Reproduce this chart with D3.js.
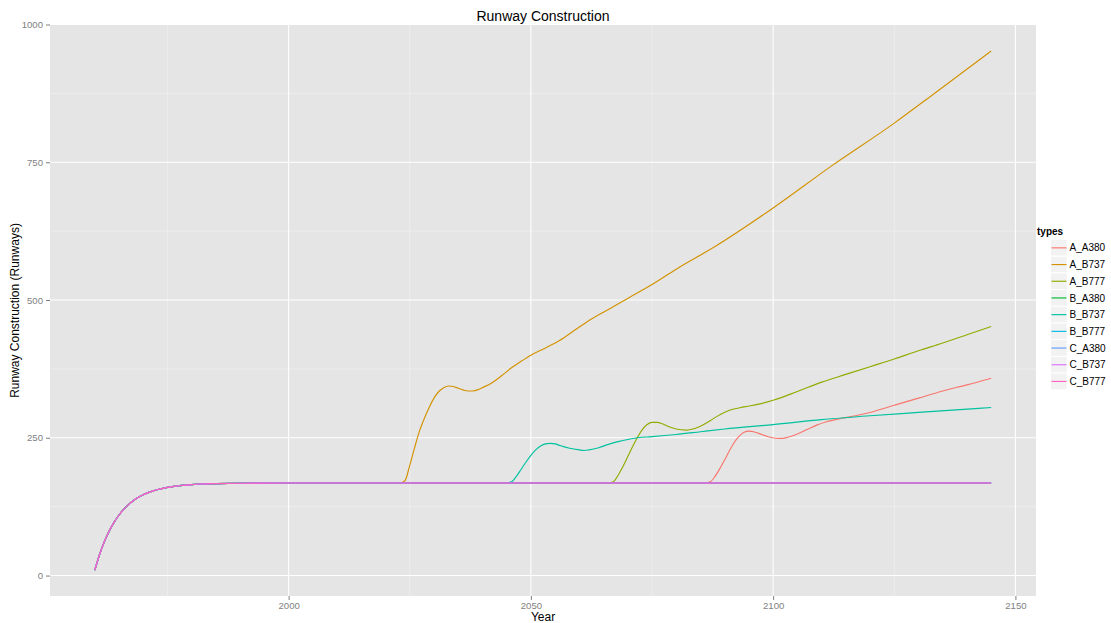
<!DOCTYPE html>
<html>
<head>
<meta charset="utf-8">
<script src="https://cdnjs.cloudflare.com/ajax/libs/d3/7.8.5/d3.min.js"></script>
<style>
  html, body { margin: 0; padding: 0; background: #fff; }
  svg { display: block; font-family: "Liberation Sans", Arial, Helvetica, sans-serif; }
</style>
</head>
<body>
<svg id="chart" width="1111" height="623"></svg>
<script>
// ---------------- DATA ----------------
const chartTitle = "Runway Construction";
const xTitle = "Year";
const yTitle = "Runway Construction (Runways)";
const legendTitle = "types";

const seriesNames = ["A_A380","A_B737","A_B777","B_A380","B_B737","B_B777","C_A380","C_B737","C_B777"];
const seriesColors = ["#F8766D","#D39200","#93AA00","#00BA38","#00C19F","#00B9E3","#619CFF","#DB72FB","#FF61C3"];

const xTicks = [2000, 2050, 2100, 2150];
const xMinorTicks = [1975, 2025, 2075, 2125];
const yTicks = [0, 250, 500, 750, 1000];
const yMinorTicks = [125, 375, 625, 875];

// shared ramp-up and plateau (year, runways)
const baseYears  = [1960, 1961, 1962, 1963, 1964, 1965, 1966, 1967, 1968, 1969, 1970, 1971, 1972, 1973, 1974, 1975, 1976, 1977, 1978, 1980, 1982, 1985, 1990, 2000, 2145];
const baseValues = [10, 38.6, 62.1, 81.3, 97.0, 109.9, 120.4, 129.1, 136.1, 141.9, 146.6, 150.5, 153.6, 156.2, 158.3, 160.1, 161.5, 162.6, 163.6, 165.1, 166.1, 166.9, 167.6, 168, 168];

// departures from the plateau
const A_A380_years  = [2086, 2087, 2088, 2089, 2090, 2091, 2092, 2093, 2094, 2095, 2096, 2097, 2099, 2101, 2102, 2103, 2105, 2107, 2109, 2111, 2114, 2117, 2120, 2125, 2130, 2135, 2140, 2145];
const A_A380_values = [168, 170, 180, 194, 210, 227, 242, 253, 260, 262, 261, 258, 252, 249, 249, 251, 257, 265, 273, 279, 285, 290, 296, 309, 322, 335, 346, 358];

const A_B737_years  = [2023, 2024, 2025, 2026, 2027, 2028, 2029, 2030, 2031, 2032, 2033, 2034, 2035, 2036, 2037, 2038, 2039, 2040, 2042, 2044, 2046, 2048, 2050, 2053, 2056, 2059, 2062, 2066, 2070, 2075, 2080, 2088, 2100, 2112, 2125, 2133, 2145];
const A_B737_values = [168, 172, 200, 232, 262, 285, 305, 322, 334, 341, 344, 343, 340, 337, 335, 335, 337, 341, 350, 363, 377, 389, 400, 413, 427, 445, 463, 483, 503, 528, 556, 597, 667, 743, 821, 873, 952];

const A_B777_years  = [2066, 2067, 2068, 2069, 2070, 2071, 2072, 2073, 2074, 2075, 2076, 2077, 2078, 2080, 2082, 2083, 2085, 2087, 2089, 2091, 2094, 2097, 2100, 2105, 2110, 2115, 2120, 2125, 2130, 2135, 2140, 2145];
const A_B777_values = [168, 170, 182, 198, 216, 234, 251, 265, 274, 278, 278, 276, 272, 266, 264, 265, 271, 281, 292, 300, 306, 311, 318, 334, 351, 365, 379, 393, 408, 422, 437, 452];

const B_B737_years  = [2045, 2046, 2047, 2048, 2049, 2050, 2051, 2052, 2053, 2054, 2055, 2056, 2058, 2060, 2061, 2062, 2064, 2066, 2068, 2070, 2072, 2075, 2080, 2085, 2090, 2100, 2110, 2120, 2130, 2145];
const B_B737_values = [168, 170, 180, 193, 206, 218, 228, 235, 239, 240, 239, 236, 231, 228, 227, 228, 232, 238, 243, 247, 250, 252, 256, 261, 266, 274, 283, 290, 296, 305];

const departures = {
  A_A380: [A_A380_years, A_A380_values],
  A_B737: [A_B737_years, A_B737_values],
  A_B777: [A_B777_years, A_B777_values],
  B_B737: [B_B737_years, B_B737_values]
};

// ---------------- BUILD SERIES ----------------
const baseData = baseYears.map((y, i) => ({x: y, y: baseValues[i]}));
const series = seriesNames.map((name, i) => {
  let pts;
  if (departures[name]) {
    const [ys, vs] = departures[name];
    const start = ys[0];
    pts = baseData.filter(d => d.x < start).concat(ys.map((y, j) => ({x: y, y: vs[j]})));
  } else {
    pts = baseData.slice();
  }
  return {name, color: seriesColors[i], pts};
});

// ---------------- LAYOUT ----------------
const svg = d3.select("#chart");
const W = 1111, H = 623;
const panel = {left: 50, top: 25, right: 1036, bottom: 596};

const allX = series.flatMap(s => s.pts.map(d => d.x));
const allY = series.flatMap(s => s.pts.map(d => d.y));
const xMin = d3.min(allX), xMax = d3.max(allX);
const yMin = d3.min(allY), yMax = d3.max(allY);
const xPad = (xMax - xMin) * 0.05, yPad = (yMax - yMin) * 0.05;

const x = d3.scaleLinear().domain([xMin - xPad, xMax + xPad]).range([panel.left, panel.right]);
const y = d3.scaleLinear().domain([yMin - yPad, yMax + yPad]).range([panel.bottom, panel.top]);

// panel background
svg.append("rect")
  .attr("x", panel.left).attr("y", panel.top)
  .attr("width", panel.right - panel.left).attr("height", panel.bottom - panel.top)
  .attr("fill", "#E5E5E5");

const grid = svg.append("g");
// minor grid
grid.selectAll(".vminor").data(xMinorTicks).enter().append("line")
  .attr("x1", d => x(d)).attr("x2", d => x(d))
  .attr("y1", panel.top).attr("y2", panel.bottom)
  .attr("stroke", "#F2F2F2").attr("stroke-width", 0.6);
grid.selectAll(".hminor").data(yMinorTicks).enter().append("line")
  .attr("y1", d => y(d)).attr("y2", d => y(d))
  .attr("x1", panel.left).attr("x2", panel.right)
  .attr("stroke", "#F2F2F2").attr("stroke-width", 0.6);
// major grid
grid.selectAll(".vmajor").data(xTicks).enter().append("line")
  .attr("x1", d => x(d)).attr("x2", d => x(d))
  .attr("y1", panel.top).attr("y2", panel.bottom)
  .attr("stroke", "#FFFFFF").attr("stroke-width", 1.1);
grid.selectAll(".hmajor").data(yTicks).enter().append("line")
  .attr("y1", d => y(d)).attr("y2", d => y(d))
  .attr("x1", panel.left).attr("x2", panel.right)
  .attr("stroke", "#FFFFFF").attr("stroke-width", 1.1);

// lines
const line = d3.line().x(d => x(d.x)).y(d => y(d.y)).curve(d3.curveMonotoneX);
const clip = svg.append("clipPath").attr("id", "clip").append("rect")
  .attr("x", panel.left).attr("y", panel.top)
  .attr("width", panel.right - panel.left).attr("height", panel.bottom - panel.top);
svg.append("g").attr("clip-path", "url(#clip)")
  .selectAll("path").data(series).enter().append("path")
  .attr("d", d => line(d.pts))
  .attr("fill", "none")
  .attr("stroke", d => d.color)
  .attr("stroke-width", 1.15);

// axes
const xAxis = d3.axisBottom(x).tickValues(xTicks).tickSize(4).tickPadding(2).tickFormat(d3.format("d"));
const gx = svg.append("g").attr("transform", `translate(0,${panel.bottom})`).call(xAxis);
gx.select(".domain").remove();
gx.selectAll(".tick line").attr("stroke", "#7F7F7F");
gx.selectAll(".tick text").attr("fill", "#7F7F7F").attr("font-size", 9.6)
  .attr("font-family", "'Liberation Sans', Arial, sans-serif");

const yAxis = d3.axisLeft(y).tickValues(yTicks).tickSize(4).tickPadding(3).tickFormat(d3.format("d"));
const gy = svg.append("g").attr("transform", `translate(${panel.left},0)`).call(yAxis);
gy.select(".domain").remove();
gy.selectAll(".tick line").attr("stroke", "#7F7F7F");
gy.selectAll(".tick text").attr("fill", "#7F7F7F").attr("font-size", 9.6)
  .attr("font-family", "'Liberation Sans', Arial, sans-serif");

// titles
svg.append("text").attr("x", (panel.left + panel.right) / 2).attr("y", 21)
  .attr("text-anchor", "middle").attr("font-size", 14).attr("fill", "#000")
  .text(chartTitle);
svg.append("text").attr("x", (panel.left + panel.right) / 2).attr("y", 621)
  .attr("text-anchor", "middle").attr("font-size", 12).attr("fill", "#000")
  .text(xTitle);
svg.append("text")
  .attr("transform", `translate(19,${(panel.top + panel.bottom) / 2}) rotate(-90)`)
  .attr("text-anchor", "middle").attr("font-size", 12).attr("fill", "#000")
  .text(yTitle);

// legend
const lg = svg.append("g").attr("transform", "translate(1037,0)");
lg.append("text").attr("x", 0).attr("y", 235)
  .attr("font-size", 10).attr("font-weight", "bold").attr("fill", "#000")
  .text(legendTitle);
const keyH = 16.7, keyTop = 239.5;
const items = lg.selectAll(".item").data(series).enter().append("g")
  .attr("transform", (d, i) => `translate(0,${keyTop + i * keyH})`);
items.append("rect").attr("x", 13.5).attr("y", 0).attr("width", 16.7).attr("height", keyH)
  .attr("fill", "#F2F2F2").attr("stroke", "#FFFFFF").attr("stroke-width", 1);
items.append("line").attr("x1", 14.5).attr("x2", 29.5)
  .attr("y1", keyH / 2).attr("y2", keyH / 2)
  .attr("stroke", d => d.color).attr("stroke-width", 1.15);
items.append("text").attr("x", 32.5).attr("y", keyH / 2 + 3.6)
  .attr("font-size", 10).attr("fill", "#000").text(d => d.name);
</script>
</body>
</html>
